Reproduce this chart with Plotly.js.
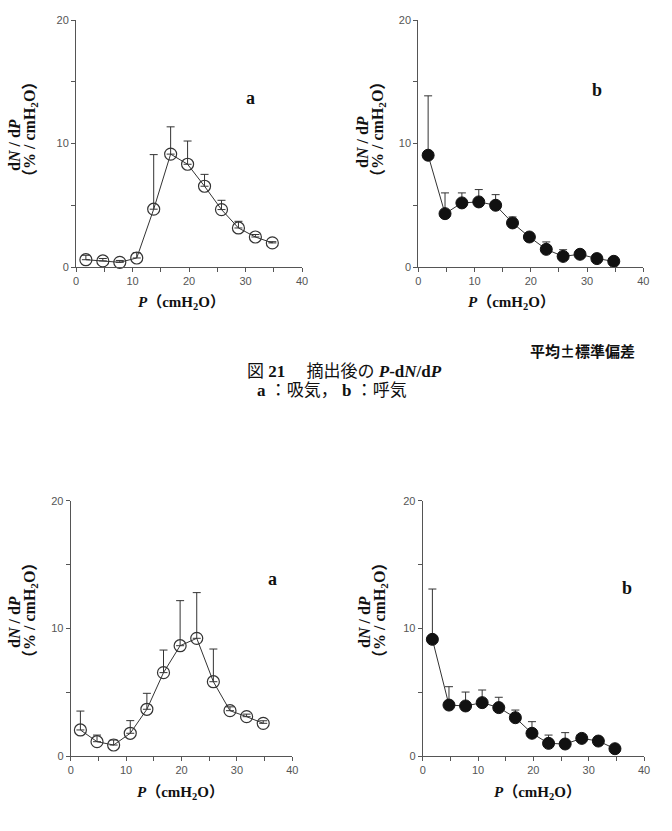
<!DOCTYPE html>
<html>
<head>
<meta charset="utf-8">
<script src="https://cdn.plot.ly/plotly-3.0.1.min.js"></script>
<style>html,body{margin:0;padding:0;background:#fff}</style>
</head>
<body>
<div id="chart" style="width:672px;height:831px"></div>
<script>
// Pressure steps (cmH2O) shared by every panel
const pressure = [1.75, 4.75, 7.75, 10.75, 13.75, 16.75, 19.75, 22.75, 25.75, 28.75, 31.75, 34.75];

// Upper pair: after excision — a: inspiration, b: expiration (mean and SD)
const upperInspMean = [0.59, 0.49, 0.38, 0.73, 4.68, 9.14, 8.32, 6.54, 4.65, 3.16, 2.43, 1.95];
const upperInspSD   = [0.36, 0.20, 0.15, 0.43, 4.42, 2.21, 1.88, 0.96, 0.75, 0.54, 0.20, 0.10];
const upperExpMean  = [9.05, 4.32, 5.19, 5.27, 5.00, 3.57, 2.43, 1.43, 0.86, 1.03, 0.68, 0.46];
const upperExpSD    = [4.81, 1.68, 0.81, 1.00, 0.86, 0.48, 0.30, 0.60, 0.54, 0.30, 0.30, 0.20];

// Lower pair — a: inspiration, b: expiration (mean and SD)
const lowerInspMean = [2.04, 1.12, 0.86, 1.78, 3.66, 6.53, 8.64, 9.22, 5.82, 3.55, 3.08, 2.56];
const lowerInspSD   = [1.48, 0.52, 0.39, 0.99, 1.25, 1.77, 3.53, 3.58, 2.56, 0.30, 0.20, 0.20];
const lowerExpMean  = [9.14, 3.99, 3.92, 4.18, 3.79, 3.00, 1.78, 0.99, 0.94, 1.38, 1.17, 0.57];
const lowerExpSD    = [3.94, 1.44, 1.09, 0.99, 0.81, 0.60, 0.91, 0.65, 0.89, 0.30, 0.30, 0.20];

// Axis ticks: labelled majors, unlabelled minors in between
const xTickVals = [0, 10, 20, 30, 40];
const xMinorVals = [5, 15, 25, 35];
const yTickVals = [0, 10, 20];
const yMinorVals = [5, 15];

const W = 672, H = 831;
const px = x => x / W;
const py = y => 1 - y / H;

const ink = '#333333';
const axisGrey = '#555555';

function series(mean, sd, filled, xa, ya) {
  return {
    x: pressure, y: mean, xaxis: xa, yaxis: ya,
    type: 'scatter', mode: 'lines+markers', cliponaxis: false,
    line: {color: ink, width: 1},
    marker: filled
      ? {symbol: 'circle', size: 12, color: '#111', line: {color: '#111', width: 1}}
      : {symbol: 'circle-open', size: 12, color: ink, line: {color: ink, width: 1.2}},
    error_y: {type: 'data', symmetric: false, array: sd,
              arrayminus: sd.map(() => 0), width: 4, thickness: 1, color: ink},
    hoverinfo: 'x+y'
  };
}

const data = [
  series(upperInspMean, upperInspSD, false, 'x', 'y'),
  series(upperExpMean, upperExpSD, true, 'x2', 'y2'),
  series(lowerInspMean, lowerInspSD, false, 'x3', 'y3'),
  series(lowerExpMean, lowerExpSD, true, 'x4', 'y4')
];

const tickFont = {family: 'Liberation Sans Narrow, Liberation Sans, Arial, sans-serif', size: 11, color: axisGrey};

function axis(domain, anchor, range, major, minor) {
  return {domain: domain, anchor: anchor, range: range, fixedrange: true,
    showline: true, linecolor: axisGrey, linewidth: 1, zeroline: false, showgrid: false,
    ticks: 'outside', ticklen: 4, tickwidth: 1, tickcolor: axisGrey,
    tickmode: 'array', tickvals: major, tickfont: tickFont,
    minor: {tickmode: 'array', tickvals: minor, ticks: 'outside', ticklen: 4,
            tickwidth: 1, tickcolor: axisGrey, showgrid: false}};
}
const xAxis = (dm, a) => axis(dm, a, [0, 40], xTickVals, xMinorVals);
const yAxis = (dm, a) => axis(dm, a, [0, 20], yTickVals, yMinorVals);

// Plot areas in pixels: [left, right] and [top, bottom]
const boxes = [
  {x: [76, 302],      y: [20, 267]},
  {x: [418.3, 643.3], y: [20, 267]},
  {x: [70.7, 292.3],  y: [500.7, 756]},
  {x: [422.7, 644],   y: [500.7, 756]}
];
const d = boxes.map(b => ({x: [px(b.x[0]), px(b.x[1])], y: [py(b.y[1]), py(b.y[0])]}));

const serif = 'Liberation Serif, Times New Roman, Noto Sans CJK JP, serif';
const cjk = 'Liberation Serif, Noto Sans CJK JP, sans-serif';

const yTitleMain = '<b>d<i>N</i> / d<i>P</i></b>';
const yTitleUnit = '<b>（% / cmH<sub>2</sub>O）</b>';
const xTitle = '<b><i>P</i>（cmH<sub>2</sub>O）</b>';

const ann = [];
function text(t, x, y, size, opts) {
  ann.push(Object.assign({text: t, x: px(x), y: py(y), xref: 'paper', yref: 'paper',
    xanchor: 'center', yanchor: 'middle', showarrow: false,
    font: {family: serif, size: size, color: '#111'}}, opts || {}));
}

// Axis titles, panel letters
const yTitlePos = [
  {main: [14, 145], unit: [31, 130]},
  {main: [362, 142], unit: [379, 130]},
  {main: [14, 622], unit: [30, 611]},
  {main: [364, 622], unit: [380, 611]}
];
yTitlePos.forEach(p => {
  text(yTitleMain, p.main[0], p.main[1], 16, {textangle: -90});
  text(yTitleUnit, p.unit[0], p.unit[1], 16, {textangle: -90});
});
[[181, 303], [511, 303], [180, 793], [537, 793]].forEach(p => text(xTitle, p[0], p[1], 15));
text('<b>a</b>', 250, 98, 18);
text('<b>b</b>', 597, 90, 18);
text('<b>a</b>', 272, 579, 18);
text('<b>b</b>', 627, 588, 18);

// Caption
text('平均±標準偏差', 582, 350, 15, {font: {family: 'Noto Sans CJK JP, sans-serif', size: 15, color: '#111', weight: 'bold'}});
text('図 <b>21</b>　 摘出後の <b><i>P</i>-d<i>N</i>/d<i>P</i></b>', 344, 372, 17, {font: {family: cjk, size: 17, color: '#111'}});
text('<b>a</b> ：吸気， <b>b</b> ：呼気', 332, 390, 17, {font: {family: cjk, size: 17, color: '#111'}});

const layout = {
  width: W, height: H, margin: {l: 0, r: 0, t: 0, b: 0},
  paper_bgcolor: '#fff', plot_bgcolor: 'rgba(0,0,0,0)', showlegend: false,
  xaxis: xAxis(d[0].x, 'y'),   yaxis: yAxis(d[0].y, 'x'),
  xaxis2: xAxis(d[1].x, 'y2'), yaxis2: yAxis(d[1].y, 'x2'),
  xaxis3: xAxis(d[2].x, 'y3'), yaxis3: yAxis(d[2].y, 'x3'),
  xaxis4: xAxis(d[3].x, 'y4'), yaxis4: yAxis(d[3].y, 'x4'),
  annotations: ann
};

Plotly.newPlot('chart', data, layout, {staticPlot: true, displayModeBar: false});
</script>
</body>
</html>
